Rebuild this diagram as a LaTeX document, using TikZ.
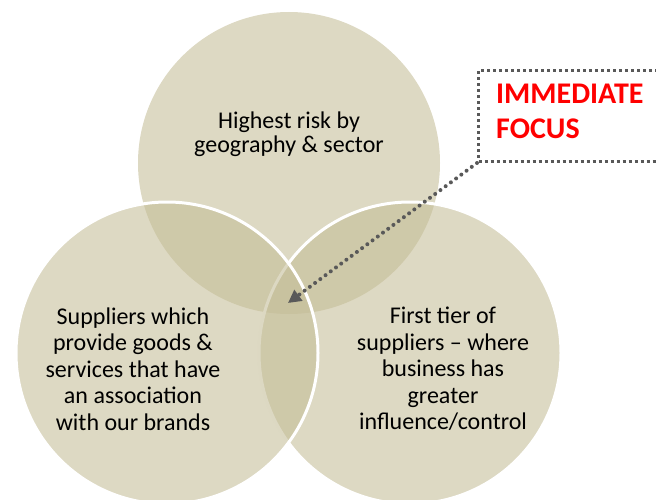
\documentclass[tikz,border=0pt]{standalone}
\usepackage{fontspec}
\setmainfont{Carlito}
\usepackage{xcolor}
\usetikzlibrary{arrows.meta}
\definecolor{tan}{HTML}{C4BD97}
\definecolor{pointer}{HTML}{595959}
\definecolor{alert}{HTML}{FF0000}
\tikzstyle{zone}=[circle, inner sep=0pt, minimum size=302pt, fill=tan, fill opacity=0.58]
\newcommand{\zone}{\node[zone]}
\tikzstyle{rim}=[draw=white, line width=3pt]
\tikzstyle{blurb}=[align=center, inner sep=0pt, text=black, font=\fontsize{24}{26.5}\selectfont]

\begin{document}
\begin{tikzpicture}[x=1pt,y=-1pt]
\useasboundingbox (0,0) rectangle (656,500);
\clip (0,0) rectangle (656,500);
\zone (geo) at (289,163) {};
\zone (tier) at (410,353) [rim] {};
\zone (brand) at (167,353) [rim] {};
\node[blurb, font=\fontsize{24}{23.5}\selectfont] (geotext) at (289,134) {Highest risk by\\geography \& sector};
\node[blurb] (brandtext) at (133,369) {Suppliers which\\provide goods \&\\services that have\\an association\\with our brands};
\node[blurb] (tiertext) at (443,369) {First tier of\\suppliers -- where\\business has\\greater\\influence/control};
% callout box, runs off the right edge
\node[draw=pointer, line width=3pt, dash pattern=on 3pt off 3pt, anchor=north west, minimum width=260pt, minimum height=91pt] (focusbox) at (477,69) {};
\node[align=left, inner sep=0pt, anchor=north west, text=alert, font=\bfseries\fontsize{30}{35}\selectfont] (focus) at (496,84) {IMMEDIATE\\FOCUS};
\coordinate (hit) at (288,303);
\draw[pointer, line width=4pt, line cap=round, dash pattern=on 0pt off 6.5pt, -{Triangle[length=13pt,width=13pt]}] (focusbox.south west) -- (hit);
\end{tikzpicture}
\end{document}
